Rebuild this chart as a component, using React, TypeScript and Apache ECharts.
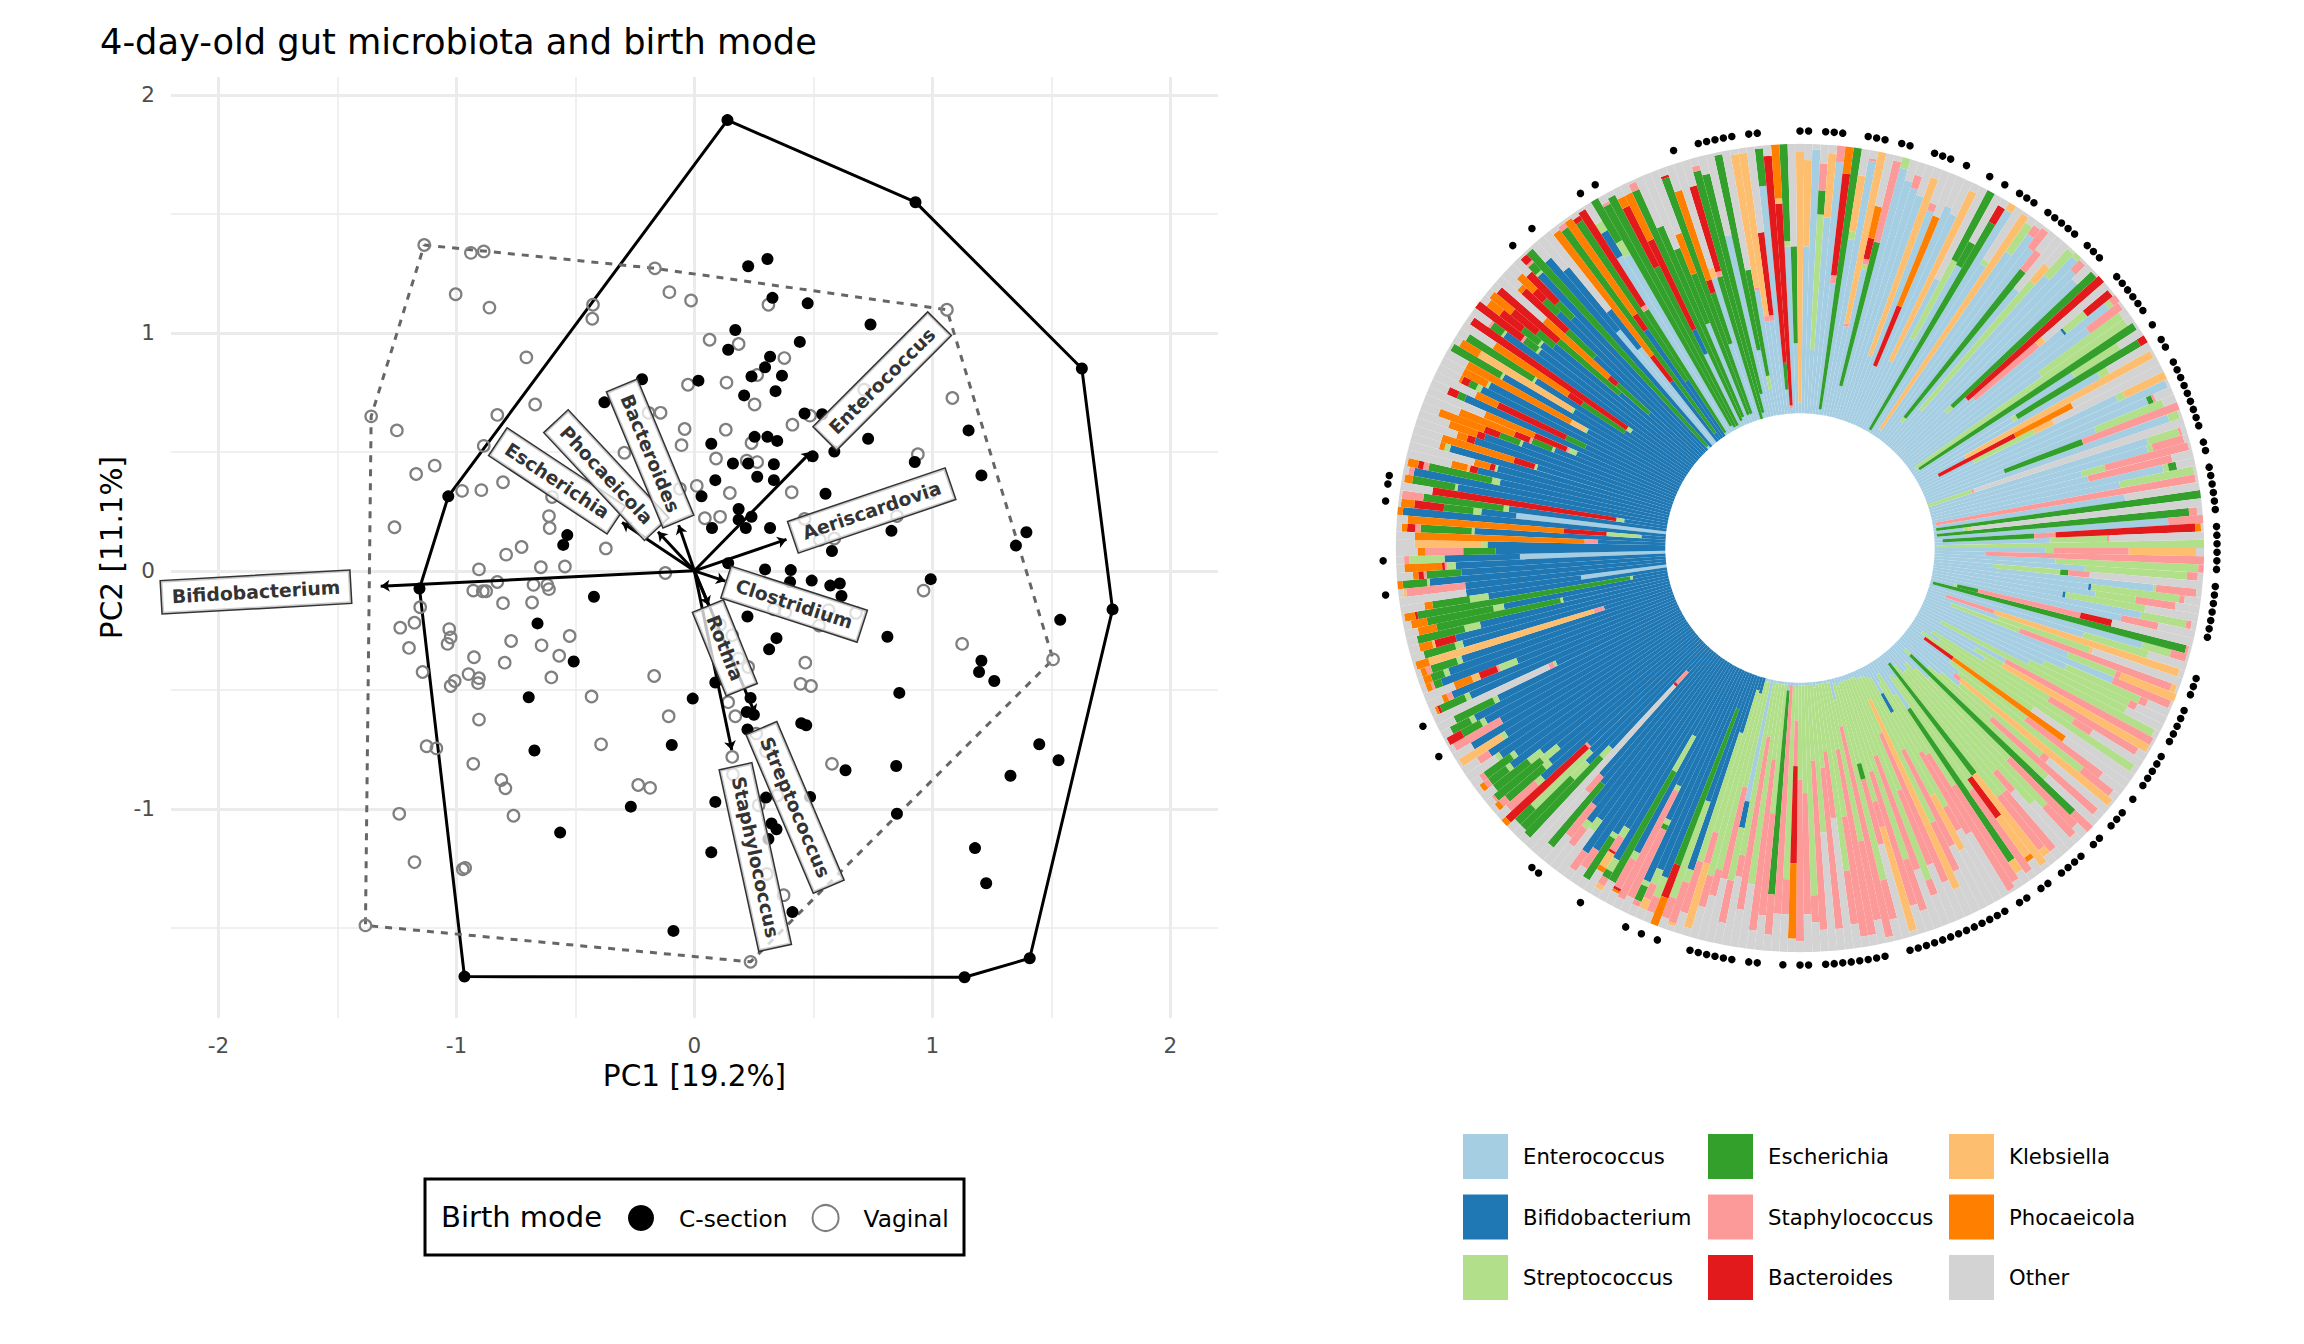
import React, { useEffect, useRef } from "react";
import * as echarts from "echarts";

const FONT = "DejaVu Sans";
const genera = ["Enterococcus","Bifidobacterium","Streptococcus","Escherichia","Staphylococcus","Bacteroides","Klebsiella","Phocaeicola","Other"];
const generaColors = ["#A6CEE3","#1F78B4","#B2DF8A","#33A02C","#FB9A99","#E31A1C","#FDBF6F","#FF7F00","#D3D3D3"];

const csectionHull = [[.139,1.894],[.929,1.549],[1.628,.85],[1.757,-.162],[1.409,-1.628],[1.135,-1.708],[-.966,-1.705],[-1.155,-.074],[-1.034,.313],[.139,1.894]];
const vaginalHull = [[-1.135,1.369],[-.166,1.271],[1.061,1.097],[1.507,-.372],[.236,-1.643],[-1.382,-1.49],[-1.358,.649],[-1.135,1.369]];
const csectionPoints = [[.226,1.28],[.307,1.31],[.328,1.147],[.476,1.124],[.74,1.035],[.172,1.012],[.142,.929],[.443,.962],[.318,.9],[.297,.855],[.24,.817],[.368,.82],[.341,.755],[.017,.799],[-.22,.805],[.209,.737],[.463,.661],[.537,.658],[-.378,.708],[.253,.563],[.307,.563],[.348,.546],[.071,.534],[.73,.555],[1.152,.59],[.162,.451],[.226,.451],[.334,.448],[.497,.481],[.588,.501],[.926,.457],[1.206,.401],[.264,.395],[.334,.381],[.088,.381],[.03,.313],[.551,.324],[.186,.26],[.24,.227],[.186,.215],[.074,.18],[.216,.18],[.318,.18],[-.534,.15],[-.551,.109],[.828,.168],[.578,.083],[1.395,.162],[1.351,.106],[.142,.032],[.297,.006],[.405,.003],[.402,-.047],[.493,-.041],[.571,-.062],[.611,-.053],[.618,-.106],[.993,-.035],[-.422,-.109],[-.659,-.221],[1.537,-.206],[.223,-.192],[.811,-.277],[.345,-.283],[.314,-.33],[-.507,-.381],[1.206,-.378],[1.196,-.425],[1.26,-.463],[.088,-.469],[.236,-.534],[-.007,-.537],[-.696,-.531],[.861,-.513],[.22,-.593],[.25,-.605],[.449,-.64],[.47,-.649],[.223,-.667],[-.095,-.732],[-.672,-.755],[1.449,-.729],[1.53,-.796],[.848,-.82],[.635,-.838],[1.328,-.861],[.088,-.971],[.301,-.953],[.486,-.95],[-.267,-.991],[.851,-1.021],[.324,-1.062],[.345,-1.086],[.311,-1.127],[-.564,-1.1],[.071,-1.183],[1.179,-1.165],[1.226,-1.313],[.412,-1.434],[-.088,-1.513]];
const vaginalPoints = [[-.939,1.336],[-.885,1.342],[-1.003,1.162],[-.861,1.106],[-.426,1.118],[-.429,1.059],[-.105,1.171],[-.014,1.136],[.311,1.118],[-.706,.897],[.064,.971],[.186,.953],[.264,.823],[.378,.894],[-.027,.782],[.135,.791],[-.669,.699],[-.828,.655],[.253,.699],[.713,.761],[-.193,.664],[-.142,.664],[.486,.652],[.412,.614],[1.084,.726],[-1.25,.59],[-.041,.596],[.132,.593],[-.054,.528],[.24,.537],[-.885,.525],[-1.091,.442],[-1.169,.407],[-.804,.372],[-.976,.336],[-.895,.339],[.091,.472],[.22,.463],[.264,.457],[.939,.49],[-.061,.345],[.01,.357],[.149,.327],[.409,.33],[-.294,.496],[-.598,.31],[-.611,.23],[-.608,.18],[-.372,.094],[-1.26,.183],[-.726,.1],[-.791,.068],[.044,.221],[.108,.227],[.463,.218],[.527,.13],[.588,.136],[.851,.23],[.993,.327],[-.905,.006],[-.645,.015],[-.544,.018],[-.122,-.009],[-.929,-.083],[-.889,-.086],[-.875,-.086],[-.828,-.047],[-.676,-.059],[-.618,-.059],[-.611,-.077],[-.804,-.136],[-.682,-.133],[-1.236,-.239],[-1.176,-.218],[-1.152,-.153],[-1.03,-.245],[-1.024,-.28],[-1.037,-.307],[-1.199,-.324],[-.524,-.274],[-.77,-.295],[-.642,-.313],[-.926,-.363],[-.797,-.386],[-.568,-.357],[-1.142,-.425],[-.949,-.434],[-1.007,-.463],[-.905,-.451],[-.909,-.472],[-1.024,-.484],[-.601,-.448],[-.169,-.442],[-.432,-.528],[-.108,-.611],[-.905,-.625],[-1.125,-.737],[-1.084,-.746],[-.392,-.729],[-.929,-.811],[-.236,-.9],[-.186,-.912],[-.811,-.879],[-.794,-.914],[-.76,-1.029],[-1.24,-1.021],[-1.176,-1.224],[-.973,-1.254],[-.963,-1.248],[.466,-.386],[.446,-.475],[.49,-.484],[.963,-.083],[1.125,-.307],[.578,-.811],[.334,-.162],[.524,-.23],[.382,-.174],[.679,-.177],[.564,-.165],[.159,-.271],[.108,-.227],[.159,-.782],[.375,-1.363],[.26,-.684],[.301,-.758],[.162,-.855],[.27,-.985],[.348,-.944],[.304,-1.274],[.142,-.552],[.172,-.611],[.186,-.369],[.226,-.404]];
const arrowTips = [[-1.318,-.065],[.49,.5],[.387,.132],[.13,-.043],[.06,-.145],[.255,-.6],[.157,-.753],[-.304,.203],[-.153,.164],[-.066,.192]];
const biplotNames = ["Bifidobacterium","Enterococcus","Aeriscardovia","Clostridium","Rothia","Streptococcus","Staphylococcus","Escherichia","Phocaeicola","Bacteroides"];
const biplotLabelAt = [[-1.842,-.089],[.789,.797],[.745,.2535],[.419,-.14],[.128,-.324],[.423,-.994],[.256,-1.203],[-.577,.378],[-.37,.402],[-.186,.493]];
const biplotAngles = [3.2,45,18.8,-18,-68,-67,-77.7,-33.5,-47,-67.4];

const samplesA = [
[4,0,0,0,0,0,93,0,3],[62,0,0,0,0,0,32,0,6],[98,0,0,0,0,0,0,0,2],[24,0,50,9,10,0,0,0,7],[73,0,0,0,0,0,24,0,3],[94,0,0,0,6,0,0,0,0],[49,0,0,0,3,38,0,10,0],[2,0,0,98,0,0,0,0,0],[66,0,3,0,0,0,21,0,10],[96,0,0,0,1,0,0,0,3],
[34,0,0,0,1,0,65,0,0],[56,0,2,0,2,8,0,12,20],[12,0,0,55,31,0,0,0,2],[96,0,4,0,0,0,0,0,0],[92,0,0,0,0,0,0,0,8],[90,0,0,0,5,0,0,0,5],[88,0,0,0,0,0,0,0,12],[26,0,0,0,0,0,70,0,4],[84,0,0,0,3,0,0,0,13],[23,0,0,0,0,24,0,36,17],
[88,0,0,0,0,0,0,0,12],[86,0,0,0,0,0,0,0,14],[27,0,0,0,0,0,70,0,3],[62,0,0,0,0,0,0,0,38],[38,0,33,29,0,0,0,0,0],[70,0,0,10,0,0,0,0,20],[1,0,0,89,0,7,0,0,3],[97,0,0,0,0,0,3,0,0],[75,0,2,0,0,0,0,0,23],[3,0,0,0,0,0,96,0,1],
[84,0,13,0,0,0,0,0,3],[94,0,0,0,4,0,0,0,2],[90,0,0,0,9,0,0,0,1],[10,0,2,70,9,0,0,0,9],[75,0,0,0,0,0,0,0,25],[18,0,63,0,0,0,8,0,11],[86,0,13,0,0,0,0,0,1],[98,0,2,0,0,0,0,0,0],[94,0,0,0,5,0,0,0,1],[92,0,0,0,0,0,0,0,8],
[24,0,3,72,0,0,0,0,1],[33,0,0,0,0,67,0,0,0],[35,0,0,0,31,0,3,0,31],[76,1,10,0,0,12,0,0,1],[95,0,2,0,3,0,0,0,0],[84,0,0,0,15,0,0,0,1],[60,0,37,0,0,0,0,0,3],[2,0,95,0,0,0,0,0,3],[3,0,0,96,0,0,0,0,1],[70,0,20,0,0,0,0,0,10],
[42,0,2,53,0,3,0,0,0],[78,0,4,0,0,0,0,0,18],[20,0,0,0,0,0,79,0,1],[8,0,0,0,0,32,0,24,36],[22,0,25,0,0,0,8,0,45],[80,0,3,0,0,0,17,0,0],[99,0,0,0,0,0,0,0,1],[90,0,0,2,1,0,0,0,7],[68,0,27,0,0,0,0,0,5],[31,0,0,31,38,0,0,0,0],
[95,0,4,0,0,0,0,0,1],[0,0,17,0,1,0,0,0,82],[85,0,12,0,1,0,0,0,2],[84,0,2,0,12,0,0,0,2],[58,0,9,0,32,0,0,0,1],[60,0,0,0,32,0,0,0,8],[88,0,2,3,0,0,0,0,7],[71,0,28,0,0,0,0,0,1],[1,0,0,0,98,0,0,0,1],[72,0,0,0,0,0,0,0,28],
[1,0,0,99,0,0,0,0,0],[11,0,2,0,0,0,1,0,86],[1,0,0,94,3,0,0,0,2],[87,0,0,0,13,0,0,0,0],[3,0,0,34,8,52,0,2,1],[43,0,21,0,1,0,0,0,35]];
const samplesB = [
[1,0,99,0,0,0,0,0,0],[41,0,3,0,28,0,25,0,3],[19,0,0,0,81,0,0,0,0],[45,0,53,0,2,0,0,0,0],[56,0,38,0,4,0,0,0,2],[22,0,25,3,8,0,0,0,42],[82,0,1,0,15,0,0,0,2],[58,1,33,0,2,0,0,0,6],[61,0,15,0,15,0,0,0,9],[49,1,30,0,0,0,0,0,20],
[79,0,17,0,2,0,0,0,2],[72,0,0,0,14,0,0,0,14],[9,0,1,8,39,12,0,0,31],[1,0,0,97,1,0,0,0,1],[82,0,11,0,6,0,0,0,1],[60,0,25,0,0,0,0,0,15],[7,0,0,0,19,0,72,0,2],[28,0,36,0,0,0,1,0,35],[10,0,27,0,60,0,2,0,1],[57,0,19,0,2,0,22,0,0],
[76,0,0,0,23,0,0,0,1],[58,0,30,0,3,0,0,0,9],[50,0,35,0,3,0,0,0,12],[45,0,40,0,0,0,0,0,15],[9,0,89,0,0,0,0,0,2],[37,0,0,0,62,0,0,0,1],[25,0,12,0,0,0,62,0,1],[30,0,28,0,38,0,0,0,4],[8,0,62,0,8,0,0,0,22],[12,0,86,0,0,0,0,0,2],
[5,0,50,0,0,0,0,0,45],[7,0,0,0,0,13,0,51,29],[20,0,35,0,35,0,0,0,10],[25,0,58,0,14,0,0,0,3],[24,0,0,0,3,0,72,0,1],[28,0,40,0,3,0,0,0,29],[20,0,25,0,52,0,0,0,3],[15,0,60,0,0,0,0,0,25],[4,0,3,84,9,0,0,0,0],[18,0,42,0,35,0,0,0,5],
[12,0,70,0,15,0,0,0,3],[8,0,70,0,0,0,0,0,22],[10,0,50,0,10,0,0,0,30],[10,0,58,0,28,0,0,0,4],[6,0,62,0,25,0,3,0,4],[4,0,0,52,0,0,42,0,2],[10,0,46,0,0,18,18,2,6],[8,0,52,0,37,0,0,0,3],[22,0,0,68,0,0,5,0,5],[15,0,40,0,42,0,0,0,3],
[5,0,35,0,59,0,0,0,1],[8,0,30,0,35,0,0,0,27],[12,8,40,0,10,0,0,0,30],[5,0,49,0,0,0,23,0,23],[4,0,30,0,40,0,0,0,26],[3,0,60,0,20,0,0,0,17],[3,0,9,0,0,0,77,0,11],[3,0,22,0,60,0,0,0,15],[2,0,45,0,30,0,0,0,23],[2,0,80,0,6,0,0,0,12],
[2,0,30,0,45,0,0,0,23],[2,0,70,0,20,0,0,0,8],[2,0,35,0,52,0,0,0,11],[2,0,46,0,10,0,40,0,2],[3,0,30,6,25,0,0,0,36],[2,0,75,0,15,0,0,0,8],[8,0,10,0,80,0,0,0,2],[1,0,60,0,30,0,0,0,9],[1,0,25,0,70,0,0,0,4],[1,0,50,0,45,0,0,0,4],
[1,0,70,0,20,0,0,0,9],[1,0,25,0,25,0,0,0,49],[2,0,30,0,60,0,0,0,8],[1,0,55,0,0,0,0,0,44],[1,0,28,0,63,0,0,0,8],[1,0,78,0,10,0,0,0,11],[1,0,40,0,45,0,0,0,14]];
const samplesC = [
[1,0,35,0,60,0,0,0,4],[2,0,12,0,17,36,0,28,5],[1,0,72,0,13,0,0,0,14],[1,0,0,0,85,0,0,0,14],[3,0,0,76,15,0,0,0,6],[1,0,48,0,38,0,0,0,13],[1,0,28,0,64,0,0,0,7],[1,0,75,0,0,0,0,0,24],[1,0,20,0,65,0,0,0,14],[1,0,65,0,8,0,0,0,26],
[46,10,20,0,16,0,0,0,8],[1,0,40,0,35,0,0,0,24],[1,0,72,0,10,0,0,0,17],[0,6,70,0,12,0,0,0,12],[0,5,55,0,12,0,25,0,3],[0,22,50,0,20,0,0,0,8],[0,76,5,0,16,0,1,0,2],[0,50,38,0,8,0,0,0,4],[0,14,0,62,0,13,0,11,0],[0,82,8,0,6,0,0,0,4],
[0,80,6,0,6,0,4,0,4],[0,86,2,6,2,0,0,0,4],[0,62,2,2,28,0,0,0,6],[0,49,2,0,45,0,0,0,4],[0,78,3,0,12,1,0,1,5],[0,30,15,47,0,0,0,0,8],[0,84,5,3,3,0,2,0,3],[0,72,4,0,6,1,6,2,9],[0,76,2,18,0,0,0,0,4],[0,85,0,0,8,0,0,0,7],
[0,88,0,0,8,0,0,0,4],[0,75,5,0,0,0,0,0,20],[0,78,3,0,8,0,0,0,11],[0,72,0,0,15,0,0,0,13],[0,64,0,30,0,0,0,0,6],[0,62,0,0,8,0,0,0,30],[0,12,0,0,6,1,0,0,81],[0,52,5,40,0,0,0,0,3],[0,62,8,26,0,0,0,0,4],[0,58,30,8,0,0,0,0,4],
[0,57,0,0,1,40,0,2,0],[0,78,3,0,14,0,0,0,5],[0,72,3,18,3,0,0,2,2],[0,66,8,22,1,0,0,0,3],[0,72,6,16,0,0,0,0,6],[0,84,2,8,2,0,0,2,2],[0,80,2,12,2,0,0,0,4],[0,85,2,0,0,0,0,0,13],[0,88,0,0,5,0,0,0,7],[0,79,2,0,0,0,18,0,1],
[0,92,0,0,0,0,0,0,8],[0,78,0,0,20,0,0,0,2],[0,83,2,8,0,6,0,0,1],[0,86,2,8,0,0,0,0,4],[0,75,2,16,0,0,0,0,7],[0,50,1,0,2,0,0,0,47],[0,84,2,10,0,1,0,1,2],[0,90,0,0,2,0,0,2,6],[0,63,7,0,1,7,3,7,12],[0,92,0,3,1,0,0,2,2],
[0,88,2,5,0,0,0,3,2],[0,82,2,10,2,0,0,2,2],[0,26,0,0,4,0,64,5,1],[0,80,3,12,0,0,0,0,5],[0,82,0,0,0,8,1,5,4],[0,72,6,18,0,0,0,0,4],[0,40,1,47,0,0,0,7,5],[0,62,4,25,0,0,0,6,3],[0,13,1,80,0,1,0,4,1],[0,67,7,14,0,0,0,3,9],
[32,43,0,0,0,0,0,0,25],[0,75,0,0,22,0,1,0,2],[0,88,1,9,0,0,0,2,0],[0,76,0,13,1,2,0,2,6],[0,78,3,0,1,1,0,14,3]];
const samplesD = [
[54,28,13,0,2,0,0,0,3],[0,63,0,12,14,0,0,3,8],[0,66,2,0,0,0,25,0,7],[0,25,0,0,5,0,0,63,7],[0,71,1,19,2,3,0,2,2],[0,9,13,0,0,16,0,58,4],[0,98,0,0,0,0,0,2,0],[56,13,3,11,0,11,0,5,1],[0,59,2,30,8,0,0,0,1],[0,16,3,0,0,69,0,0,12],
[0,79,1,16,0,0,0,3,1],[0,96,0,0,2,0,0,0,2],[0,64,3,24,2,2,0,4,1],[0,73,0,0,0,3,1,6,17],[0,66,1,0,0,2,0,6,25],[0,85,2,0,0,0,0,2,11],[0,52,1,0,0,8,0,28,11],[0,77,0,0,0,3,0,4,16],[0,74,0,0,0,3,0,11,12],[0,60,1,8,0,6,0,18,7],
[0,48,1,8,1,6,0,22,14],[0,40,3,0,1,13,0,20,23],[0,86,0,3,0,4,0,0,7],[0,38,0,8,0,28,0,9,17],[0,82,2,3,0,3,0,1,9],[0,80,1,0,0,0,0,10,9],[0,40,1,0,0,0,6,44,9],[0,77,1,21,0,0,0,0,1],[0,48,1,0,0,0,40,8,3],[0,66,1,29,0,0,0,0,4],
[0,28,0,19,0,6,0,33,14],[0,26,2,0,0,70,0,0,2],[0,85,1,5,1,0,0,0,8],[0,71,1,6,1,21,0,0,0],[0,72,1,8,0,10,0,6,3],[0,68,0,8,0,12,0,10,2],[0,38,0,30,0,29,0,0,3],[0,25,0,16,0,4,0,32,23],[0,54,0,14,0,22,0,2,8],[0,75,0,7,0,5,0,8,5],
[0,70,0,8,0,15,0,0,7],[0,90,1,4,1,3,0,0,1],[1,0,0,98,0,0,0,0,1],[0,92,0,0,0,0,0,0,8],[55,30,0,0,0,0,0,0,15],[45,18,0,0,0,0,0,0,37],[0,28,0,0,0,12,0,58,2],[0,3,0,94,2,0,0,0,1],[0,49,0,0,0,7,0,43,1],[0,25,0,71,0,2,0,0,2],
[1,0,0,54,2,42,0,0,1],[77,11,4,0,0,0,0,0,8],[76,0,6,18,0,0,0,0,0],[2,0,0,94,1,0,0,0,3],[1,0,0,97,0,0,0,0,2],[1,0,0,66,0,25,0,4,4],[30,10,0,0,0,37,0,19,4],[2,0,0,94,3,0,0,0,1],[3,0,0,77,0,0,0,0,20],[40,0,0,30,0,0,0,0,30],
[3,0,0,56,0,0,0,16,25],[3,0,0,93,0,1,0,0,3],[30,0,0,20,0,5,0,35,10],[55,0,0,0,0,0,4,0,41],[0,0,0,55,2,33,0,0,10],[2,0,0,93,2,0,0,0,3],[9,0,0,84,0,0,0,0,7],[69,0,0,0,0,0,0,0,31],[25,0,0,74,0,0,0,0,1],[10,0,5,40,0,0,0,0,45],
[47,0,0,0,1,0,50,0,2],[35,0,0,0,2,0,61,0,2],[35,0,0,0,2,31,0,0,32],[85,0,0,14,0,0,0,0,1],[9,0,0,10,0,77,0,0,4],[2,0,0,0,1,75,2,20,0],[62,0,2,36,0,0,0,0,0],[26,0,0,36,0,0,0,0,38]];
const samples = [...samplesA, ...samplesB, ...samplesC, ...samplesD];

const csectionSampleIndex = [0,1,3,4,5,8,9,10,12,13,16,17,18,20,23,25,27,28,29,31,32,33,34,35,37,38,39,42,43,44,45,46,47,49,51,52,54,55,56,57,58,59,60,61,62,64,65,67,68,69,70,71,72,74,75,76,77,78,79,81,82,83,84,85,86,87,92,93,94,96,97,98,99,100,102,103,104,105,106,108,110,111,112,114,115,117,118,119,120,122,123,125,126,128,129,130,131,132,133,134,135,136,137,138,139,140,143,144,145,146,147,148,149,150,152,153,155,158,159,161,162,163,164,165,166,170,172,174,180,186,187,204,208,224,228,235,237,238,269,272,279,281,291,294,295,296,297,298,300,301];

const majorX = [-2,-1,0,1,2];
const minorX = [-1.5,-.5,.5,1.5];
const majorY = [-1,0,1,2];
const minorY = [-1.5,-.5,.5,1.5];

export default function App() {
  const ref = useRef<HTMLDivElement>(null);
  useEffect(() => {
    document.body.style.margin = "0";
    const chart = echarts.init(ref.current!, null, { renderer: "svg" });
    const gridLine = "#EBEBEB";
    const axisBase = (min: number, max: number) => ({ type: "value", min, max, scale: false, axisLine: { show: false } });
    const hull = (name: string, data: number[][], color: string, type: string) => ({
      name, type: "line", data, xAxisIndex: 0, yAxisIndex: 0, symbol: "none", silent: true, z: 3,
      lineStyle: { color, width: 3, type: type === "dashed" ? [7, 7] : "solid" },
    });
    const legendCol = (data: string[], left: number) => ({
      data, left, top: 1134, orient: "vertical", itemWidth: 45, itemHeight: 45, itemGap: 15.5, icon: "rect", selectedMode: false,
      padding: 0, textStyle: { fontFamily: FONT, fontSize: 21.2, color: "#000", padding: [0, 0, 0, 10] },
    });
    chart.setOption({
      animation: false,
      backgroundColor: "#fff",
      title: { text: "4-day-old gut microbiota and birth mode", left: 100, top: 24, padding: 0, textStyle: { fontFamily: FONT, fontWeight: "normal", fontSize: 35.2, color: "#000" } },
      grid: { left: 171, top: 77, width: 1047, height: 941, containLabel: false },
      xAxis: [
        { ...axisBase(-2.199, 2.2), name: "PC1 [19.2%]", nameLocation: "middle", nameGap: 43, nameTextStyle: { fontFamily: FONT, fontSize: 29.5, color: "#000" },
          axisTick: { show: false, customValues: majorX }, axisLabel: { customValues: majorX, margin: 16, fontFamily: FONT, fontSize: 21.5, color: "#4D4D4D", showMinLabel: true, showMaxLabel: true }, splitLine: { show: true, lineStyle: { color: gridLine, width: 3 } } },
        { ...axisBase(-2.199, 2.2), position: "top", axisTick: { show: false, customValues: minorX }, axisLabel: { show: false }, splitLine: { show: true, lineStyle: { color: gridLine, width: 1.5 } } },
      ],
      yAxis: [
        { ...axisBase(-1.879, 2.075), name: "PC2 [11.1%]", nameLocation: "middle", nameGap: 44, nameRotate: 90, nameTextStyle: { fontFamily: FONT, fontSize: 29.5, color: "#000" },
          axisTick: { show: false, customValues: majorY }, axisLabel: { customValues: majorY, margin: 16, fontFamily: FONT, fontSize: 21.5, color: "#4D4D4D" }, splitLine: { show: true, lineStyle: { color: gridLine, width: 3 } } },
        { ...axisBase(-1.879, 2.075), position: "right", axisTick: { show: false, customValues: minorY }, axisLabel: { show: false }, splitLine: { show: true, lineStyle: { color: gridLine, width: 1.5 } } },
      ],
      polar: { center: [1800, 548], radius: [134.7, 417.6] },
      angleAxis: { type: "category", data: samples.map((_, i) => String(i)), startAngle: 90 + 180 / samples.length, boundaryGap: true, show: false },
      radiusAxis: { type: "value", min: 0, max: 105, show: false },
      legend: [
        { data: ["C-section", { name: "Vaginal", itemStyle: { color: "#fff", borderColor: "#7F7F7F", borderWidth: 2 } }], left: 628, top: 1204, orient: "horizontal", icon: "circle", itemWidth: 26, itemHeight: 26, itemGap: 24, selectedMode: false, padding: 0, textStyle: { fontFamily: FONT, fontSize: 23.3, color: "#000", padding: [0, 0, 0, 20] } },
        legendCol(genera.slice(0, 3), 1463),
        legendCol(genera.slice(3, 6), 1708),
        legendCol(genera.slice(6, 9), 1949),
      ],
      graphic: [
        { type: "rect", shape: { x: 425, y: 1179, width: 539, height: 76 }, style: { fill: "none", stroke: "#000", lineWidth: 3 } },
        { type: "text", x: 441, y: 1217, style: { text: "Birth mode", font: `29px "${FONT}"`, fill: "#000", textVerticalAlign: "middle" } },
      ],
      series: [
        hull("C-section hull", csectionHull, "#000", "solid"),
        hull("Vaginal hull", vaginalHull, "#666", "dashed"),
        { name: "Vaginal", type: "scatter", data: [...vaginalHull.slice(0, -1), ...vaginalPoints], xAxisIndex: 0, yAxisIndex: 0, symbolSize: 11.5, z: 4, itemStyle: { opacity: 1, color: "rgba(255,255,255,0)", borderColor: "#7F7F7F", borderWidth: 2.2 } },
        { name: "C-section", type: "scatter", data: [...csectionHull.slice(0, -1), ...csectionPoints], xAxisIndex: 0, yAxisIndex: 0, symbolSize: 12, z: 5, itemStyle: { opacity: 1, color: "#000" } },
        { name: "arrows", type: "lines", coordinateSystem: "cartesian2d", xAxisIndex: 0, yAxisIndex: 0, z: 6, symbol: ["none", "arrow"], symbolSize: 9, lineStyle: { color: "#000", width: 3, opacity: 1 },
          data: arrowTips.map((t) => ({ coords: [[0, 0], t] })) },
        { name: "taxa labels", type: "scatter", xAxisIndex: 0, yAxisIndex: 0, z: 7, symbolSize: 1, itemStyle: { opacity: 1, color: "rgba(0,0,0,0)" },
          data: biplotNames.map((name, i) => ({ name, value: biplotLabelAt[i],
            label: { show: true, position: "inside", formatter: "{b}", rotate: biplotAngles[i], fontFamily: FONT, fontWeight: "bold", fontSize: 18.8, color: "#333", backgroundColor: "rgba(255,255,255,0.75)", borderColor: "#333", borderWidth: 1.5, padding: [7, 10, 6, 10], align: "center", verticalAlign: "middle" } })) },
        ...genera.map((name, k) => ({ name, type: "bar", coordinateSystem: "polar", stack: "taxa", barCategoryGap: "0%", silent: true, itemStyle: { color: generaColors[k] }, data: samples.map((r) => r[k]) })),
        { name: "C-section samples", type: "scatter", coordinateSystem: "polar", symbolSize: 7.5, itemStyle: { opacity: 1, color: "#000" }, data: csectionSampleIndex.map((i) => [104.8, i]) },
      ],
    });
    return () => chart.dispose();
  }, []);
  return <div ref={ref} style={{ position: "absolute", left: 0, top: 0, width: 2304, height: 1344 }} />;
}
